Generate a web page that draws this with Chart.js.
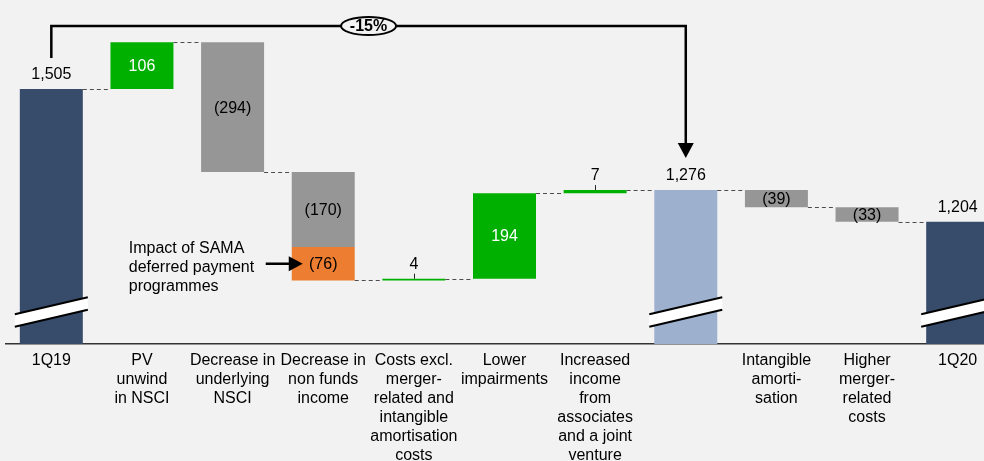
<!DOCTYPE html>
<html>
<head>
<meta charset="utf-8">
<script src="https://cdn.jsdelivr.net/npm/chart.js@4.4.1/dist/chart.umd.min.js"></script>
<style>
  html, body { margin: 0; padding: 0; background: #f2f2f2; overflow: hidden; width: 984px; height: 461px; }
  #wrap { position: relative; width: 1003px; height: 461px; }
</style>
</head>
<body>
<div id="wrap"><canvas id="bridge"></canvas></div>
<script>
// Net income bridge, 1Q19 -> 1Q20 (SAR m)
const categories = [
  ['1Q19'],
  ['PV', 'unwind', 'in NSCI'],
  ['Decrease in', 'underlying', 'NSCI'],
  ['Decrease in', 'non funds', 'income'],
  ['Costs excl.', 'merger-', 'related and', 'intangible', 'amortisation', 'costs'],
  ['Lower', 'impairments'],
  ['Increased', 'income', 'from', 'associates', 'and a joint', 'venture'],
  [''],
  ['Intangible', 'amorti-', 'sation'],
  ['Higher', 'merger-', 'related', 'costs'],
  ['1Q20']
];
const stepValues = [1505, 106, -294, -170, 4, 194, 7, 1276, -39, -33, 1204];
const stepKinds  = ['total', 'delta', 'delta', 'delta', 'delta', 'delta', 'delta', 'total', 'delta', 'delta', 'total'];
const samaValues = [null, null, null, -76, null, null, null, null, null, null, null];
const samaNote   = ['Impact of SAMA', 'deferred payment', 'programmes'];

// broken value axis
const axisFloor = 927;
const axisCeil = 1707;

const FONT = "'Liberation Sans', Arial, sans-serif";
const NAVY = '#374b6b', LIGHT = '#9db0ce', GREEN = '#00b000', GREY = '#969696', ORANGE = '#ed7d31';

// floating bar ranges and running level after each category
const mainBars = [], samaBars = [], levels = [];
let running = 0;
stepValues.forEach((v, i) => {
  if (stepKinds[i] === 'total') { mainBars.push([axisFloor, v]); running = v; }
  else { mainBars.push([running, running + v]); running += v; }
  if (samaValues[i] != null) { samaBars.push([running, running + samaValues[i]]); running += samaValues[i]; }
  else samaBars.push(null);
  levels.push(running);
});

const lastIdx = stepValues.length - 1;
const barColors = stepValues.map((v, i) => {
  if (stepKinds[i] === 'total') return (i === 0 || i === lastIdx) ? NAVY : LIGHT;
  return v > 0 ? GREEN : GREY;
});

const fmt = (v, kind) => kind === 'total' ? v.toLocaleString('en-US') : (v < 0 ? '(' + (-v) + ')' : String(v));

const decor = {
  id: 'waterfallDecor',
  afterDatasetsDraw(chart) {
    const ctx = chart.ctx, ys = chart.scales.y, area = chart.chartArea;
    const main = chart.getDatasetMeta(0).data, sama = chart.getDatasetMeta(1).data;
    const base = area.bottom;
    const topOf = el => Math.min(el.y, el.base), botOf = el => Math.max(el.y, el.base);
    ctx.save();

    // dashed connectors between bars
    ctx.strokeStyle = '#4d4d4d'; ctx.lineWidth = 1; ctx.setLineDash([4, 3]);
    for (let i = 0; i < levels.length - 1; i++) {
      const py = Math.round(ys.getPixelForValue(levels[i])) + 0.5;
      const a = main[i], b = main[i + 1];
      ctx.beginPath(); ctx.moveTo(a.x + a.width / 2, py); ctx.lineTo(b.x - b.width / 2, py); ctx.stroke();
    }
    ctx.setLineDash([]);

    // axis-break bands on total bars
    stepKinds.forEach((k, i) => {
      if (k !== 'total') return;
      const el = main[i];
      const L = el.x - el.width / 2 - 5, R = el.x + el.width / 2 + 5;
      const cl = base - 23.5, cr = base - 40.5, h = 6.25;
      ctx.beginPath();
      ctx.moveTo(L, cl - h); ctx.lineTo(R, cr - h); ctx.lineTo(R, cr + h); ctx.lineTo(L, cl + h); ctx.closePath();
      ctx.fillStyle = '#ffffff'; ctx.fill();
      ctx.strokeStyle = '#000'; ctx.lineWidth = 2;
      ctx.beginPath();
      ctx.moveTo(L, cl - h); ctx.lineTo(R, cr - h);
      ctx.moveTo(L, cl + h); ctx.lineTo(R, cr + h);
      ctx.stroke();
    });

    // value labels
    ctx.font = '16px ' + FONT; ctx.textAlign = 'center'; ctx.textBaseline = 'middle';
    stepValues.forEach((v, i) => {
      const el = main[i], k = stepKinds[i];
      const t = topOf(el), b = botOf(el);
      const txt = fmt(v, k);
      if (k === 'total') {
        ctx.fillStyle = '#000'; ctx.fillText(txt, el.x, t - 14);
      } else if (b - t < 10) {
        ctx.strokeStyle = '#262626'; ctx.lineWidth = 1;
        ctx.beginPath(); ctx.moveTo(Math.round(el.x) + 0.5, t); ctx.lineTo(Math.round(el.x) + 0.5, t - 5); ctx.stroke();
        ctx.fillStyle = '#000'; ctx.fillText(txt, el.x, t - 14);
      } else {
        ctx.fillStyle = v > 0 ? '#fff' : '#000';
        ctx.fillText(txt, el.x, (t + b) / 2 + 1);
      }
    });
    samaValues.forEach((v, i) => {
      if (v == null) return;
      const el = sama[i];
      const t = topOf(el), b = botOf(el), cy = (t + b) / 2;
      ctx.fillStyle = '#000'; ctx.textAlign = 'center';
      ctx.fillText(fmt(v, 'delta'), el.x, cy + 1);

      // side note with arrow
      const left = el.x - el.width / 2;
      ctx.textAlign = 'left';
      samaNote.forEach((line, j) => ctx.fillText(line, left - 163, cy + 4 + (j - 1) * 18.7));
      ctx.strokeStyle = '#000'; ctx.lineWidth = 2.5;
      ctx.beginPath(); ctx.moveTo(left - 26, cy); ctx.lineTo(left - 2, cy); ctx.stroke();
      ctx.fillStyle = '#000';
      ctx.beginPath(); ctx.moveTo(left + 11, cy); ctx.lineTo(left - 3, cy - 7.5); ctx.lineTo(left - 3, cy + 7.5); ctx.closePath(); ctx.fill();
    });

    // change bracket from first total to intermediate total
    const midIdx = stepKinds.indexOf('total', 1);
    const first = main[0], mid = main[midIdx];
    const topY = area.top + 26;
    const x1 = first.x, x2 = mid.x;
    const tipY = topOf(mid) - 32;
    ctx.strokeStyle = '#000'; ctx.lineWidth = 2.5; ctx.lineJoin = 'miter';
    ctx.beginPath();
    ctx.moveTo(x1, topOf(first) - 31); ctx.lineTo(x1, topY); ctx.lineTo(x2, topY); ctx.lineTo(x2, tipY - 14);
    ctx.stroke();
    ctx.fillStyle = '#000';
    ctx.beginPath(); ctx.moveTo(x2, tipY); ctx.lineTo(x2 - 8, tipY - 15); ctx.lineTo(x2 + 8, tipY - 15); ctx.closePath(); ctx.fill();

    const pct = Math.round((stepValues[midIdx] - stepValues[0]) / stepValues[0] * 100);
    const cx = (x1 + x2) / 2;
    ctx.beginPath(); ctx.ellipse(cx, topY, 27.5, 9, 0, 0, Math.PI * 2);
    ctx.fillStyle = '#f2f2f2'; ctx.fill();
    ctx.lineWidth = 2; ctx.stroke();
    ctx.fillStyle = '#000'; ctx.font = 'bold 16px ' + FONT; ctx.textAlign = 'center';
    ctx.fillText(pct + '%', cx, topY + 1);

    ctx.restore();
  }
};

new Chart(document.getElementById('bridge'), {
  type: 'bar',
  data: {
    labels: categories,
    datasets: [
      { data: mainBars, backgroundColor: barColors, borderWidth: 0 },
      { data: samaBars, backgroundColor: ORANGE, borderWidth: 0 }
    ]
  },
  options: {
    responsive: true,
    maintainAspectRatio: false,
    animation: false,
    events: [],
    layout: { padding: { left: 6, right: 0, top: 0, bottom: 0 } },
    datasets: { bar: { categoryPercentage: 1, barPercentage: 0.695 } },
    plugins: { legend: { display: false }, tooltip: { enabled: false } },
    scales: {
      x: {
        stacked: true,
        grid: { display: false, drawTicks: false },
        border: { display: true, color: '#333', width: 1.5 },
        ticks: {
          autoSkip: false, maxRotation: 0, minRotation: 0, padding: 7,
          color: '#000', font: { family: FONT, size: 16, lineHeight: 1.19 }
        },
        afterFit(scale) { scale.height = 117; }
      },
      y: { display: false, min: axisFloor, max: axisCeil }
    }
  },
  plugins: [decor]
});
</script>
</body>
</html>
